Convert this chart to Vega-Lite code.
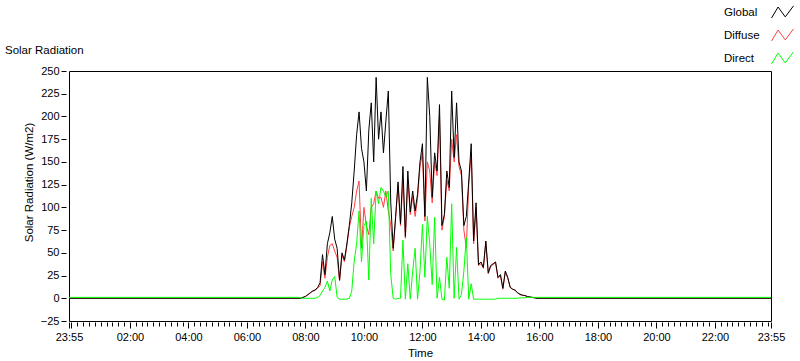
{
  "$schema": "https://vega.github.io/schema/vega-lite/v6.json",
  "width": 702,
  "height": 250,
  "autosize": {"type": "none"},
  "padding": {"left": 69, "top": 71, "right": 29, "bottom": 40},
  "background": "white",
  "config": {
    "font": "Liberation Sans",
    "view": {"stroke": "#000000", "strokeWidth": 1}
  },
  "title": {"text": "Solar Radiation", "anchor": "start", "frame": "group", "dx": -64, "dy": 69, "offset": 14, "fontSize": 11.5, "fontWeight": "normal", "color": "#000000"},
  "data": {"values": [
    {"m": 0, "Global": 0, "Diffuse": 0, "Direct": 1},
    {"m": 470, "Global": 0, "Diffuse": 0, "Direct": 1},
    {"m": 475, "Global": 0, "Diffuse": 0, "Direct": 0.5},
    {"m": 480, "Global": 1, "Diffuse": 1, "Direct": 0},
    {"m": 485, "Global": 2, "Diffuse": 2, "Direct": 0},
    {"m": 490, "Global": 4, "Diffuse": 4, "Direct": 0},
    {"m": 495, "Global": 6, "Diffuse": 6, "Direct": 0},
    {"m": 500, "Global": 8, "Diffuse": 8, "Direct": 0},
    {"m": 505, "Global": 9, "Diffuse": 9, "Direct": 0},
    {"m": 510, "Global": 12, "Diffuse": 11, "Direct": 1},
    {"m": 515, "Global": 17, "Diffuse": 14, "Direct": 3},
    {"m": 520, "Global": 48, "Diffuse": 40, "Direct": 8},
    {"m": 525, "Global": 26, "Diffuse": 22, "Direct": 12},
    {"m": 530, "Global": 60, "Diffuse": 45, "Direct": 19},
    {"m": 535, "Global": 72, "Diffuse": 58, "Direct": 8},
    {"m": 540, "Global": 90, "Diffuse": 60, "Direct": 20},
    {"m": 545, "Global": 65, "Diffuse": 52, "Direct": 24},
    {"m": 550, "Global": 55, "Diffuse": 45, "Direct": 1},
    {"m": 555, "Global": 20, "Diffuse": 19, "Direct": -1},
    {"m": 560, "Global": 50, "Diffuse": 48, "Direct": -1},
    {"m": 565, "Global": 42, "Diffuse": 40, "Direct": -1},
    {"m": 570, "Global": 60, "Diffuse": 58, "Direct": -1},
    {"m": 575, "Global": 80, "Diffuse": 78, "Direct": 0},
    {"m": 580, "Global": 105, "Diffuse": 90, "Direct": 8},
    {"m": 585, "Global": 140, "Diffuse": 100, "Direct": 41},
    {"m": 590, "Global": 180, "Diffuse": 118, "Direct": 60},
    {"m": 595, "Global": 205, "Diffuse": 129, "Direct": 96},
    {"m": 600, "Global": 165, "Diffuse": 55, "Direct": 40},
    {"m": 605, "Global": 150, "Diffuse": 100, "Direct": 80},
    {"m": 610, "Global": 118, "Diffuse": 80, "Direct": 85},
    {"m": 615, "Global": 185, "Diffuse": 70, "Direct": 20},
    {"m": 620, "Global": 215, "Diffuse": 100, "Direct": 110},
    {"m": 625, "Global": 150, "Diffuse": 104, "Direct": 60},
    {"m": 630, "Global": 243, "Diffuse": 118, "Direct": 118},
    {"m": 635, "Global": 175, "Diffuse": 110, "Direct": 104},
    {"m": 640, "Global": 205, "Diffuse": 111, "Direct": 122},
    {"m": 645, "Global": 160, "Diffuse": 100, "Direct": 118},
    {"m": 650, "Global": 195, "Diffuse": 118, "Direct": 111},
    {"m": 655, "Global": 228, "Diffuse": 96, "Direct": 118},
    {"m": 660, "Global": 105, "Diffuse": 80, "Direct": 26},
    {"m": 665, "Global": 55, "Diffuse": 52, "Direct": 0},
    {"m": 670, "Global": 90, "Diffuse": 88, "Direct": -1},
    {"m": 675, "Global": 128, "Diffuse": 125, "Direct": 0},
    {"m": 680, "Global": 82, "Diffuse": 80, "Direct": 0},
    {"m": 685, "Global": 145, "Diffuse": 130, "Direct": 64},
    {"m": 690, "Global": 68, "Diffuse": 66, "Direct": -1},
    {"m": 695, "Global": 140, "Diffuse": 130, "Direct": 38},
    {"m": 700, "Global": 95, "Diffuse": 92, "Direct": -1},
    {"m": 705, "Global": 118, "Diffuse": 112, "Direct": 30},
    {"m": 710, "Global": 96, "Diffuse": 90, "Direct": 55},
    {"m": 715, "Global": 115, "Diffuse": 110, "Direct": -1},
    {"m": 720, "Global": 150, "Diffuse": 145, "Direct": 30},
    {"m": 725, "Global": 170, "Diffuse": 160, "Direct": 81},
    {"m": 730, "Global": 90, "Diffuse": 85, "Direct": 23},
    {"m": 735, "Global": 243, "Diffuse": 150, "Direct": 90},
    {"m": 740, "Global": 200, "Diffuse": 140, "Direct": 60},
    {"m": 745, "Global": 111, "Diffuse": 105, "Direct": 15},
    {"m": 750, "Global": 160, "Diffuse": 150, "Direct": 89},
    {"m": 755, "Global": 140, "Diffuse": 135, "Direct": 0},
    {"m": 760, "Global": 213, "Diffuse": 200, "Direct": 23},
    {"m": 765, "Global": 80, "Diffuse": 75, "Direct": -1},
    {"m": 770, "Global": 92, "Diffuse": 90, "Direct": -2},
    {"m": 775, "Global": 140, "Diffuse": 130, "Direct": 45},
    {"m": 780, "Global": 122, "Diffuse": 118, "Direct": 11},
    {"m": 785, "Global": 228, "Diffuse": 175, "Direct": 104},
    {"m": 790, "Global": 155, "Diffuse": 150, "Direct": 0},
    {"m": 795, "Global": 215, "Diffuse": 180, "Direct": 56},
    {"m": 800, "Global": 150, "Diffuse": 145, "Direct": -1},
    {"m": 805, "Global": 140, "Diffuse": 135, "Direct": 4},
    {"m": 810, "Global": 80, "Diffuse": 75, "Direct": 30},
    {"m": 815, "Global": 90, "Diffuse": 55, "Direct": 67},
    {"m": 820, "Global": 129, "Diffuse": 125, "Direct": -1},
    {"m": 825, "Global": 170, "Diffuse": 160, "Direct": 16},
    {"m": 830, "Global": 63, "Diffuse": 60, "Direct": -1},
    {"m": 835, "Global": 105, "Diffuse": 100, "Direct": -1},
    {"m": 840, "Global": 37, "Diffuse": 36, "Direct": -1},
    {"m": 845, "Global": 40, "Diffuse": 38, "Direct": -1},
    {"m": 850, "Global": 34, "Diffuse": 33, "Direct": -1},
    {"m": 855, "Global": 63, "Diffuse": 62, "Direct": -1},
    {"m": 860, "Global": 28, "Diffuse": 27, "Direct": -1},
    {"m": 865, "Global": 36, "Diffuse": 35, "Direct": -1},
    {"m": 870, "Global": 38, "Diffuse": 37, "Direct": -1},
    {"m": 875, "Global": 40, "Diffuse": 39, "Direct": -1},
    {"m": 880, "Global": 23, "Diffuse": 22, "Direct": 0},
    {"m": 885, "Global": 26, "Diffuse": 25, "Direct": 0},
    {"m": 890, "Global": 11, "Diffuse": 10, "Direct": 0},
    {"m": 895, "Global": 30, "Diffuse": 29, "Direct": 0},
    {"m": 900, "Global": 23, "Diffuse": 22, "Direct": 0},
    {"m": 905, "Global": 12, "Diffuse": 12, "Direct": 0},
    {"m": 910, "Global": 10, "Diffuse": 10, "Direct": 0},
    {"m": 915, "Global": 9, "Diffuse": 9, "Direct": 0},
    {"m": 920, "Global": 6, "Diffuse": 6, "Direct": 0},
    {"m": 925, "Global": 4.5, "Diffuse": 4, "Direct": 0.5},
    {"m": 930, "Global": 3.5, "Diffuse": 3, "Direct": 0.5},
    {"m": 935, "Global": 3, "Diffuse": 3, "Direct": 0.5},
    {"m": 940, "Global": 2, "Diffuse": 2, "Direct": 1},
    {"m": 945, "Global": 1.5, "Diffuse": 1.5, "Direct": 1},
    {"m": 950, "Global": 1, "Diffuse": 1, "Direct": 1},
    {"m": 955, "Global": 0.5, "Diffuse": 0.5, "Direct": 1},
    {"m": 960, "Global": 0, "Diffuse": 0, "Direct": 1},
    {"m": 1440, "Global": 0, "Diffuse": 0, "Direct": 1}
  ]},
  "transform": [{"fold": ["Global", "Diffuse", "Direct"], "as": ["series", "value"]}],
  "encoding": {
    "x": {
      "field": "m", "type": "quantitative",
      "scale": {"domain": [0, 1440], "nice": false, "zero": false},
      "axis": {
        "title": "Time",
        "values": [0,5,17,29,41,53,65,77,89,101,113,125,137,149,161,173,185,197,209,221,233,245,257,269,281,293,305,317,329,341,353,365,377,389,401,413,425,437,449,461,473,485,497,509,521,533,545,557,569,581,593,605,617,629,641,653,665,677,689,701,713,725,737,749,761,773,785,797,809,821,833,845,857,869,881,893,905,917,929,941,953,965,977,989,1001,1013,1025,1037,1049,1061,1073,1085,1097,1109,1121,1133,1145,1157,1169,1181,1193,1205,1217,1229,1241,1253,1265,1277,1289,1301,1313,1325,1337,1349,1361,1373,1385,1397,1409,1421,1433,1440],
        "labelExpr": "datum.value == 0 || datum.value == 1440 ? '23:55' : ((datum.value - 5) % 120 == 0 && datum.value > 5 ? ((datum.value - 5) / 60 < 10 ? '0' : '') + ((datum.value - 5) / 60) + ':00' : '')",
        "tickSize": {"condition": {"test": "datum.value == 0 || datum.value == 1440 || (datum.value - 5) % 120 == 0", "value": 6}, "value": 4},
        "domain": false, "grid": false, "offset": 1,
        "tickColor": "#000000", "labelColor": "#000000", "titleColor": "#000000",
        "labelFontSize": 11, "labelPadding": 3, "labelOverlap": false, "labelFlush": false, "labelBound": false,
        "titleFontSize": 11.5, "titleFontWeight": "normal", "titlePadding": 5
      }
    },
    "y": {
      "field": "value", "type": "quantitative",
      "scale": {"domain": [-25, 250], "nice": false, "zero": false},
      "axis": {
        "title": "Solar Radiation (W/m2)",
        "values": [-25, 0, 25, 50, 75, 100, 125, 150, 175, 200, 225, 250],
        "domain": false, "grid": false, "offset": 3, "tickSize": 5,
        "tickColor": "#000000", "labelColor": "#000000", "titleColor": "#000000",
        "labelFontSize": 11, "labelPadding": 2, "labelOverlap": false, "labelFlush": false,
        "titleFontSize": 11.5, "titleFontWeight": "normal", "titlePadding": 6, "titleY": 111
      }
    },
    "color": {
      "field": "series", "type": "nominal",
      "scale": {"domain": ["Global", "Diffuse", "Direct"], "range": ["#000000", "#ff4040", "#00ff00"]},
      "legend": {
        "orient": "none", "legendX": 654, "legendY": -70, "title": null,
        "symbolType": "M-1,0.5L-0.4,-0.5L0.25,0.4L1,-0.6",
        "symbolSize": 484, "symbolStrokeWidth": 1, "symbolOffset": 48,
        "labelFontSize": 11.5, "labelColor": "#000000", "labelOffset": -70, "rowPadding": 4
      }
    }
  },
  "layer": [
    {"transform": [{"filter": {"field": "series", "equal": "Diffuse"}}], "mark": {"type": "line", "strokeWidth": 1, "interpolate": "linear"}},
    {"transform": [{"filter": {"field": "series", "equal": "Global"}}], "mark": {"type": "line", "strokeWidth": 1, "interpolate": "linear"}},
    {"transform": [{"filter": {"field": "series", "equal": "Direct"}}], "mark": {"type": "line", "strokeWidth": 1, "interpolate": "linear"}}
  ]
}
